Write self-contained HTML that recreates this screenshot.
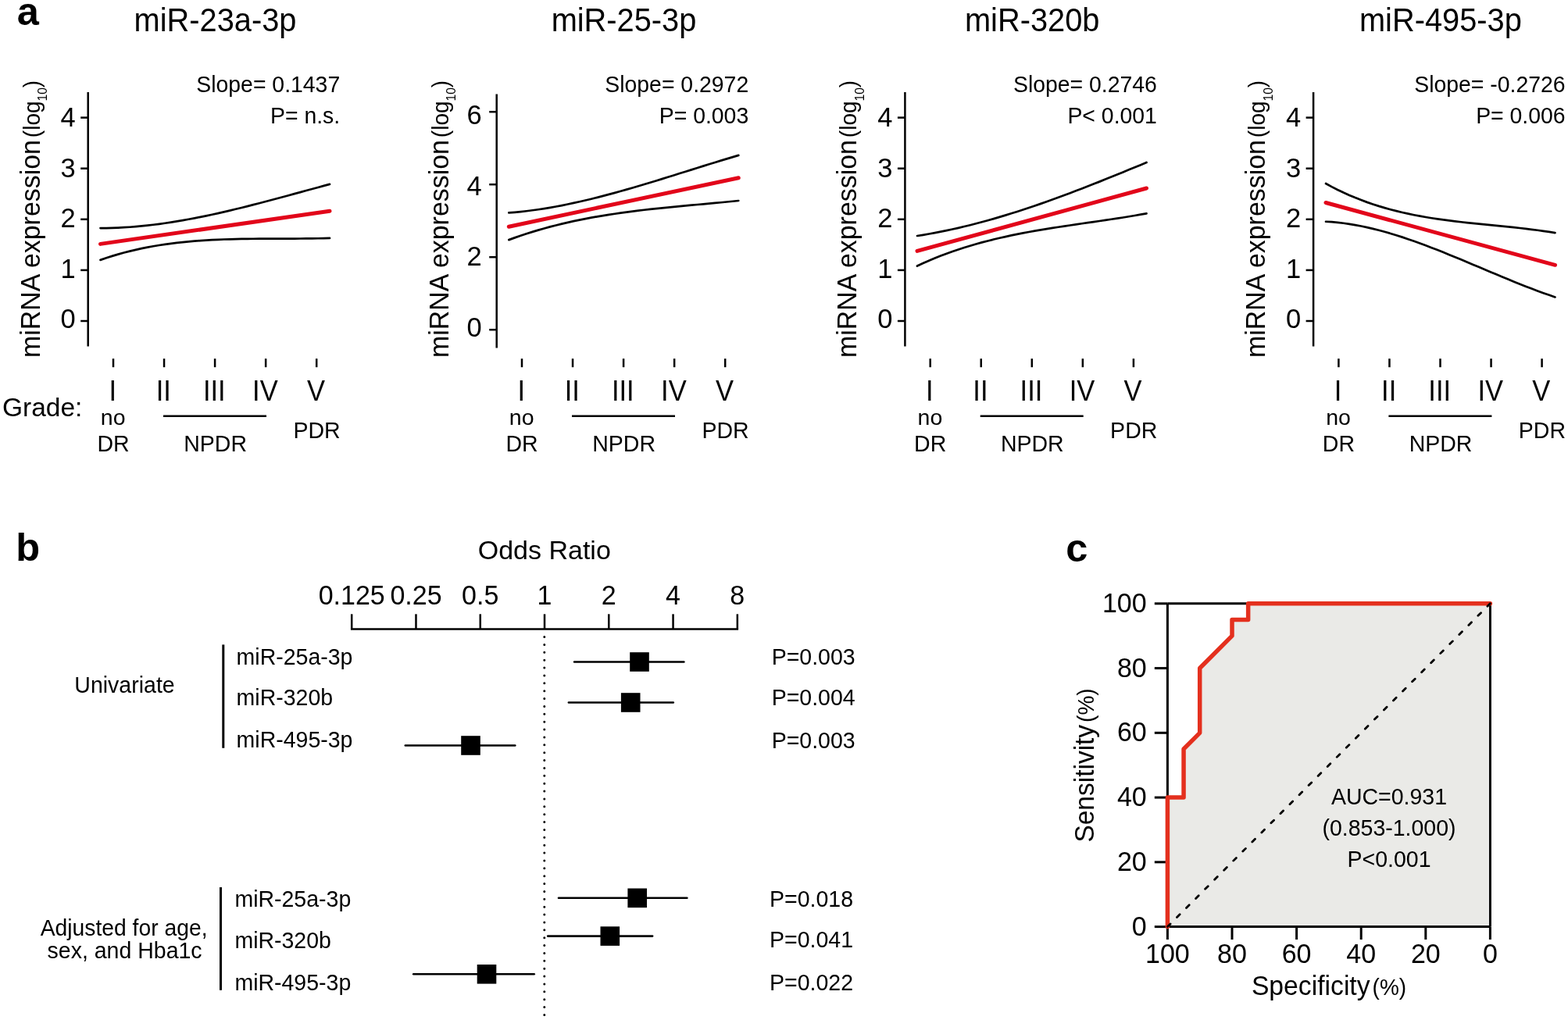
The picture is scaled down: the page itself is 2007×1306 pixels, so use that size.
<!DOCTYPE html>
<html><head><meta charset="utf-8"><title>Figure</title>
<style>html,body{margin:0;padding:0;background:#fff;overflow:hidden;}svg{display:block;}</style>
</head><body>
<svg width="2007" height="1306" viewBox="0 0 2007 1306" font-family="'Liberation Sans', Arial, Helvetica, sans-serif">
<rect x="0" y="0" width="2007" height="1306" fill="#fff"/>
<text transform="translate(21.8,31.7)" font-size="50.5" font-weight="bold">a</text>
<text transform="translate(20.3,718.2)" font-size="50.5" font-weight="bold">b</text>
<text transform="translate(1364.2,718.6)" font-size="50.5" font-weight="bold">c</text>
<text transform="translate(275.5,39.7) scale(1,1.05)" font-size="39.8" text-anchor="middle">miR-23a-3p</text>
<text transform="translate(435.2,118) scale(1,1.05)" font-size="28.4" text-anchor="end">Slope= 0.1437</text>
<text transform="translate(435.2,157.6) scale(1,1.05)" font-size="28.4" text-anchor="end">P= n.s.</text>
<line x1="112.7" y1="118" x2="112.7" y2="443.6" stroke="#000" stroke-width="2.5"/>
<line x1="103.2" y1="411" x2="112.7" y2="411" stroke="#000" stroke-width="2.5"/>
<text transform="translate(96.7,420)" font-size="34.5" text-anchor="end">0</text>
<line x1="103.2" y1="345.9" x2="112.7" y2="345.9" stroke="#000" stroke-width="2.5"/>
<text transform="translate(96.7,355.5)" font-size="34.5" text-anchor="end">1</text>
<line x1="103.2" y1="280.8" x2="112.7" y2="280.8" stroke="#000" stroke-width="2.5"/>
<text transform="translate(96.7,290.8)" font-size="34.5" text-anchor="end">2</text>
<line x1="103.2" y1="215.7" x2="112.7" y2="215.7" stroke="#000" stroke-width="2.5"/>
<text transform="translate(96.7,226.7)" font-size="34.5" text-anchor="end">3</text>
<line x1="103.2" y1="150.6" x2="112.7" y2="150.6" stroke="#000" stroke-width="2.5"/>
<text transform="translate(96.7,161.7)" font-size="34.5" text-anchor="end">4</text>
<text transform="translate(50.6,457.9) rotate(-90) scale(1,1.05)" font-size="33.9">miRNA expression<tspan font-size="28" dx="3">(log</tspan><tspan font-size="15.6" dy="9.3">10</tspan><tspan font-size="28" dy="-9.3">)</tspan></text>
<line x1="145" y1="459.2" x2="145" y2="470.2" stroke="#000" stroke-width="2.5"/>
<text transform="translate(144.2,512.6) scale(1,1.045)" font-size="34.5" text-anchor="middle">I</text>
<line x1="210.05" y1="459.2" x2="210.05" y2="470.2" stroke="#000" stroke-width="2.5"/>
<text transform="translate(209.25,512.6) scale(1,1.045)" font-size="34.5" text-anchor="middle">II</text>
<line x1="275.1" y1="459.2" x2="275.1" y2="470.2" stroke="#000" stroke-width="2.5"/>
<text transform="translate(274.3,512.6) scale(1,1.045)" font-size="34.5" text-anchor="middle">III</text>
<line x1="340.15" y1="459.2" x2="340.15" y2="470.2" stroke="#000" stroke-width="2.5"/>
<text transform="translate(339.35,512.6) scale(1,1.045)" font-size="34.5" text-anchor="middle">IV</text>
<line x1="405.2" y1="459.2" x2="405.2" y2="470.2" stroke="#000" stroke-width="2.5"/>
<text transform="translate(404.4,512.6) scale(1,1.045)" font-size="34.5" text-anchor="middle">V</text>
<text transform="translate(144.7,543.6)" font-size="28.5" text-anchor="middle">no</text>
<text transform="translate(145,577.6) scale(1,1.03)" font-size="28.5" text-anchor="middle">DR</text>
<line x1="209" y1="532.7" x2="341" y2="532.7" stroke="#000" stroke-width="2.5"/>
<text transform="translate(275.6,577.5) scale(1,1.03)" font-size="28.5" text-anchor="middle">NPDR</text>
<text transform="translate(405.5,561.2) scale(1,1.03)" font-size="28.5" text-anchor="middle">PDR</text>
<path d="M128.5,292.09 L136.03,292.04 L143.55,291.88 L151.08,291.6 L158.6,291.22 L166.13,290.73 L173.65,290.14 L181.18,289.45 L188.71,288.66 L196.23,287.78 L203.76,286.82 L211.28,285.77 L218.81,284.63 L226.33,283.42 L233.86,282.14 L241.38,280.78 L248.91,279.36 L256.44,277.87 L263.96,276.32 L271.49,274.72 L279.01,273.06 L286.54,271.35 L294.06,269.59 L301.59,267.79 L309.12,265.95 L316.64,264.07 L324.17,262.16 L331.69,260.22 L339.22,258.25 L346.74,256.27 L354.27,254.26 L361.79,252.23 L369.32,250.2 L376.85,248.15 L384.37,246.1 L391.9,244.04 L399.42,241.99 L406.95,239.94 L414.47,237.9 L422,235.88" fill="none" stroke="#000" stroke-width="2.7" stroke-linecap="round"/>
<path d="M128.5,332.88 L136.03,330.31 L143.55,327.9 L151.08,325.66 L158.6,323.57 L166.13,321.64 L173.65,319.85 L181.18,318.19 L188.71,316.68 L196.23,315.29 L203.76,314.02 L211.28,312.87 L218.81,311.83 L226.33,310.89 L233.86,310.06 L241.38,309.32 L248.91,308.66 L256.44,308.09 L263.96,307.6 L271.49,307.18 L279.01,306.82 L286.54,306.52 L294.06,306.28 L301.59,306.08 L309.12,305.93 L316.64,305.82 L324.17,305.74 L331.69,305.68 L339.22,305.64 L346.74,305.62 L354.27,305.6 L361.79,305.59 L369.32,305.58 L376.85,305.56 L384.37,305.52 L391.9,305.47 L399.42,305.38 L406.95,305.27 L414.47,305.12 L422,304.93" fill="none" stroke="#000" stroke-width="2.7" stroke-linecap="round"/>
<line x1="128.5" y1="312.4" x2="422" y2="270.2" stroke="#e2061a" stroke-width="5" stroke-linecap="round"/>
<text transform="translate(798.5,39.7) scale(1,1.05)" font-size="39.8" text-anchor="middle">miR-25-3p</text>
<text transform="translate(958.2,118) scale(1,1.05)" font-size="28.4" text-anchor="end">Slope= 0.2972</text>
<text transform="translate(958.2,157.6) scale(1,1.05)" font-size="28.4" text-anchor="end">P= 0.003</text>
<line x1="635.7" y1="120.6" x2="635.7" y2="445.4" stroke="#000" stroke-width="2.5"/>
<line x1="626.2" y1="422.2" x2="635.7" y2="422.2" stroke="#000" stroke-width="2.5"/>
<text transform="translate(616.7,431.2)" font-size="34.5" text-anchor="end">0</text>
<line x1="626.2" y1="329.2" x2="635.7" y2="329.2" stroke="#000" stroke-width="2.5"/>
<text transform="translate(616.7,340.1)" font-size="34.5" text-anchor="end">2</text>
<line x1="626.2" y1="236.2" x2="635.7" y2="236.2" stroke="#000" stroke-width="2.5"/>
<text transform="translate(616.7,250.1)" font-size="34.5" text-anchor="end">4</text>
<line x1="626.2" y1="143.2" x2="635.7" y2="143.2" stroke="#000" stroke-width="2.5"/>
<text transform="translate(616.7,158.7)" font-size="34.5" text-anchor="end">6</text>
<text transform="translate(573.6,457.9) rotate(-90) scale(1,1.05)" font-size="33.9">miRNA expression<tspan font-size="28" dx="3">(log</tspan><tspan font-size="15.6" dy="9.3">10</tspan><tspan font-size="28" dy="-9.3">)</tspan></text>
<line x1="668" y1="459.2" x2="668" y2="470.2" stroke="#000" stroke-width="2.5"/>
<text transform="translate(667.2,512.6) scale(1,1.045)" font-size="34.5" text-anchor="middle">I</text>
<line x1="733.05" y1="459.2" x2="733.05" y2="470.2" stroke="#000" stroke-width="2.5"/>
<text transform="translate(732.25,512.6) scale(1,1.045)" font-size="34.5" text-anchor="middle">II</text>
<line x1="798.1" y1="459.2" x2="798.1" y2="470.2" stroke="#000" stroke-width="2.5"/>
<text transform="translate(797.3,512.6) scale(1,1.045)" font-size="34.5" text-anchor="middle">III</text>
<line x1="863.15" y1="459.2" x2="863.15" y2="470.2" stroke="#000" stroke-width="2.5"/>
<text transform="translate(862.35,512.6) scale(1,1.045)" font-size="34.5" text-anchor="middle">IV</text>
<line x1="928.2" y1="459.2" x2="928.2" y2="470.2" stroke="#000" stroke-width="2.5"/>
<text transform="translate(927.4,512.6) scale(1,1.045)" font-size="34.5" text-anchor="middle">V</text>
<text transform="translate(667.7,543.6)" font-size="28.5" text-anchor="middle">no</text>
<text transform="translate(668,577.6) scale(1,1.03)" font-size="28.5" text-anchor="middle">DR</text>
<line x1="732" y1="532.7" x2="864" y2="532.7" stroke="#000" stroke-width="2.5"/>
<text transform="translate(798.6,577.5) scale(1,1.03)" font-size="28.5" text-anchor="middle">NPDR</text>
<text transform="translate(928.5,561.2) scale(1,1.03)" font-size="28.5" text-anchor="middle">PDR</text>
<path d="M651.3,272.41 L658.84,271.8 L666.38,271.06 L673.92,270.22 L681.45,269.27 L688.99,268.22 L696.53,267.07 L704.07,265.82 L711.61,264.48 L719.15,263.05 L726.68,261.53 L734.22,259.94 L741.76,258.27 L749.3,256.53 L756.84,254.72 L764.38,252.85 L771.92,250.91 L779.45,248.92 L786.99,246.88 L794.53,244.79 L802.07,242.65 L809.61,240.48 L817.15,238.27 L824.68,236.02 L832.22,233.75 L839.76,231.45 L847.3,229.13 L854.84,226.79 L862.38,224.44 L869.92,222.08 L877.45,219.72 L884.99,217.35 L892.53,214.99 L900.07,212.63 L907.61,210.29 L915.15,207.96 L922.68,205.64 L930.22,203.35 L937.76,201.09 L945.3,198.86" fill="none" stroke="#000" stroke-width="2.7" stroke-linecap="round"/>
<path d="M651.3,307.11 L658.84,304.37 L666.38,301.75 L673.92,299.26 L681.45,296.88 L688.99,294.62 L696.53,292.46 L704.07,290.41 L711.61,288.47 L719.15,286.62 L726.68,284.86 L734.22,283.19 L741.76,281.62 L749.3,280.12 L756.84,278.7 L764.38,277.35 L771.92,276.08 L779.45,274.87 L786.99,273.72 L794.53,272.63 L802.07,271.6 L809.61,270.61 L817.15,269.67 L824.68,268.78 L832.22,267.92 L839.76,267.1 L847.3,266.31 L854.84,265.54 L862.38,264.8 L869.92,264.08 L877.45,263.37 L884.99,262.68 L892.53,261.99 L900.07,261.3 L907.61,260.61 L915.15,259.92 L922.68,259.22 L930.22,258.5 L937.76,257.77 L945.3,257.02" fill="none" stroke="#000" stroke-width="2.7" stroke-linecap="round"/>
<line x1="651.3" y1="290.2" x2="945.3" y2="227.7" stroke="#e2061a" stroke-width="5" stroke-linecap="round"/>
<text transform="translate(1321.2,39.7) scale(1,1.05)" font-size="39.8" text-anchor="middle">miR-320b</text>
<text transform="translate(1480.9,118) scale(1,1.05)" font-size="28.4" text-anchor="end">Slope= 0.2746</text>
<text transform="translate(1480.9,157.6) scale(1,1.05)" font-size="28.4" text-anchor="end">P&lt; 0.001</text>
<line x1="1158.4" y1="118" x2="1158.4" y2="443.6" stroke="#000" stroke-width="2.5"/>
<line x1="1148.9" y1="411" x2="1158.4" y2="411" stroke="#000" stroke-width="2.5"/>
<text transform="translate(1142.4,420)" font-size="34.5" text-anchor="end">0</text>
<line x1="1148.9" y1="345.9" x2="1158.4" y2="345.9" stroke="#000" stroke-width="2.5"/>
<text transform="translate(1142.4,355.5)" font-size="34.5" text-anchor="end">1</text>
<line x1="1148.9" y1="280.8" x2="1158.4" y2="280.8" stroke="#000" stroke-width="2.5"/>
<text transform="translate(1142.4,290.8)" font-size="34.5" text-anchor="end">2</text>
<line x1="1148.9" y1="215.7" x2="1158.4" y2="215.7" stroke="#000" stroke-width="2.5"/>
<text transform="translate(1142.4,226.7)" font-size="34.5" text-anchor="end">3</text>
<line x1="1148.9" y1="150.6" x2="1158.4" y2="150.6" stroke="#000" stroke-width="2.5"/>
<text transform="translate(1142.4,161.7)" font-size="34.5" text-anchor="end">4</text>
<text transform="translate(1096.3,457.9) rotate(-90) scale(1,1.05)" font-size="33.9">miRNA expression<tspan font-size="28" dx="3">(log</tspan><tspan font-size="15.6" dy="9.3">10</tspan><tspan font-size="28" dy="-9.3">)</tspan></text>
<line x1="1190.7" y1="459.2" x2="1190.7" y2="470.2" stroke="#000" stroke-width="2.5"/>
<text transform="translate(1189.9,512.6) scale(1,1.045)" font-size="34.5" text-anchor="middle">I</text>
<line x1="1255.75" y1="459.2" x2="1255.75" y2="470.2" stroke="#000" stroke-width="2.5"/>
<text transform="translate(1254.95,512.6) scale(1,1.045)" font-size="34.5" text-anchor="middle">II</text>
<line x1="1320.8" y1="459.2" x2="1320.8" y2="470.2" stroke="#000" stroke-width="2.5"/>
<text transform="translate(1320,512.6) scale(1,1.045)" font-size="34.5" text-anchor="middle">III</text>
<line x1="1385.85" y1="459.2" x2="1385.85" y2="470.2" stroke="#000" stroke-width="2.5"/>
<text transform="translate(1385.05,512.6) scale(1,1.045)" font-size="34.5" text-anchor="middle">IV</text>
<line x1="1450.9" y1="459.2" x2="1450.9" y2="470.2" stroke="#000" stroke-width="2.5"/>
<text transform="translate(1450.1,512.6) scale(1,1.045)" font-size="34.5" text-anchor="middle">V</text>
<text transform="translate(1190.4,543.6)" font-size="28.5" text-anchor="middle">no</text>
<text transform="translate(1190.7,577.6) scale(1,1.03)" font-size="28.5" text-anchor="middle">DR</text>
<line x1="1254.7" y1="532.7" x2="1386.7" y2="532.7" stroke="#000" stroke-width="2.5"/>
<text transform="translate(1321.3,577.5) scale(1,1.03)" font-size="28.5" text-anchor="middle">NPDR</text>
<text transform="translate(1451.2,561.2) scale(1,1.03)" font-size="28.5" text-anchor="middle">PDR</text>
<path d="M1174,301.99 L1181.53,300.8 L1189.05,299.52 L1196.58,298.15 L1204.1,296.69 L1211.63,295.15 L1219.15,293.53 L1226.68,291.83 L1234.21,290.05 L1241.73,288.2 L1249.26,286.27 L1256.78,284.28 L1264.31,282.21 L1271.83,280.08 L1279.36,277.88 L1286.88,275.62 L1294.41,273.3 L1301.94,270.92 L1309.46,268.48 L1316.99,265.99 L1324.51,263.45 L1332.04,260.85 L1339.56,258.21 L1347.09,255.53 L1354.62,252.8 L1362.14,250.02 L1369.67,247.21 L1377.19,244.36 L1384.72,241.48 L1392.24,238.56 L1399.77,235.61 L1407.29,232.63 L1414.82,229.62 L1422.35,226.59 L1429.87,223.54 L1437.4,220.46 L1444.92,217.37 L1452.45,214.26 L1459.97,211.13 L1467.5,208" fill="none" stroke="#000" stroke-width="2.7" stroke-linecap="round"/>
<path d="M1174,340.56 L1181.53,337.08 L1189.05,333.77 L1196.58,330.62 L1204.1,327.62 L1211.63,324.77 L1219.15,322.06 L1226.68,319.48 L1234.21,317.04 L1241.73,314.72 L1249.26,312.51 L1256.78,310.42 L1264.31,308.44 L1271.83,306.55 L1279.36,304.76 L1286.88,303.06 L1294.41,301.44 L1301.94,299.89 L1309.46,298.42 L1316.99,297.01 L1324.51,295.66 L1332.04,294.37 L1339.56,293.12 L1347.09,291.91 L1354.62,290.73 L1362.14,289.59 L1369.67,288.47 L1377.19,287.37 L1384.72,286.27 L1392.24,285.19 L1399.77,284.1 L1407.29,283.01 L1414.82,281.91 L1422.35,280.78 L1429.87,279.64 L1437.4,278.46 L1444.92,277.25 L1452.45,276 L1459.97,274.7 L1467.5,273.34" fill="none" stroke="#000" stroke-width="2.7" stroke-linecap="round"/>
<line x1="1174" y1="321.4" x2="1467.5" y2="241" stroke="#e2061a" stroke-width="5" stroke-linecap="round"/>
<text transform="translate(1843.9,39.7) scale(1,1.05)" font-size="39.8" text-anchor="middle">miR-495-3p</text>
<text transform="translate(2003.6,118) scale(1,1.05)" font-size="28.4" text-anchor="end">Slope= -0.2726</text>
<text transform="translate(2003.6,157.6) scale(1,1.05)" font-size="28.4" text-anchor="end">P= 0.006</text>
<line x1="1681.1" y1="118" x2="1681.1" y2="443.6" stroke="#000" stroke-width="2.5"/>
<line x1="1671.6" y1="411" x2="1681.1" y2="411" stroke="#000" stroke-width="2.5"/>
<text transform="translate(1665.1,420)" font-size="34.5" text-anchor="end">0</text>
<line x1="1671.6" y1="345.9" x2="1681.1" y2="345.9" stroke="#000" stroke-width="2.5"/>
<text transform="translate(1665.1,355.5)" font-size="34.5" text-anchor="end">1</text>
<line x1="1671.6" y1="280.8" x2="1681.1" y2="280.8" stroke="#000" stroke-width="2.5"/>
<text transform="translate(1665.1,290.8)" font-size="34.5" text-anchor="end">2</text>
<line x1="1671.6" y1="215.7" x2="1681.1" y2="215.7" stroke="#000" stroke-width="2.5"/>
<text transform="translate(1665.1,226.7)" font-size="34.5" text-anchor="end">3</text>
<line x1="1671.6" y1="150.6" x2="1681.1" y2="150.6" stroke="#000" stroke-width="2.5"/>
<text transform="translate(1665.1,161.7)" font-size="34.5" text-anchor="end">4</text>
<text transform="translate(1619,457.9) rotate(-90) scale(1,1.05)" font-size="33.9">miRNA expression<tspan font-size="28" dx="3">(log</tspan><tspan font-size="15.6" dy="9.3">10</tspan><tspan font-size="28" dy="-9.3">)</tspan></text>
<line x1="1713.4" y1="459.2" x2="1713.4" y2="470.2" stroke="#000" stroke-width="2.5"/>
<text transform="translate(1712.6,512.6) scale(1,1.045)" font-size="34.5" text-anchor="middle">I</text>
<line x1="1778.45" y1="459.2" x2="1778.45" y2="470.2" stroke="#000" stroke-width="2.5"/>
<text transform="translate(1777.65,512.6) scale(1,1.045)" font-size="34.5" text-anchor="middle">II</text>
<line x1="1843.5" y1="459.2" x2="1843.5" y2="470.2" stroke="#000" stroke-width="2.5"/>
<text transform="translate(1842.7,512.6) scale(1,1.045)" font-size="34.5" text-anchor="middle">III</text>
<line x1="1908.55" y1="459.2" x2="1908.55" y2="470.2" stroke="#000" stroke-width="2.5"/>
<text transform="translate(1907.75,512.6) scale(1,1.045)" font-size="34.5" text-anchor="middle">IV</text>
<line x1="1973.6" y1="459.2" x2="1973.6" y2="470.2" stroke="#000" stroke-width="2.5"/>
<text transform="translate(1972.8,512.6) scale(1,1.045)" font-size="34.5" text-anchor="middle">V</text>
<text transform="translate(1713.1,543.6)" font-size="28.5" text-anchor="middle">no</text>
<text transform="translate(1713.4,577.6) scale(1,1.03)" font-size="28.5" text-anchor="middle">DR</text>
<line x1="1777.4" y1="532.7" x2="1909.4" y2="532.7" stroke="#000" stroke-width="2.5"/>
<text transform="translate(1844,577.5) scale(1,1.03)" font-size="28.5" text-anchor="middle">NPDR</text>
<text transform="translate(1973.9,561.2) scale(1,1.03)" font-size="28.5" text-anchor="middle">PDR</text>
<path d="M1697,235.02 L1704.53,239.09 L1712.05,242.93 L1719.58,246.53 L1727.1,249.92 L1734.63,253.1 L1742.15,256.07 L1749.68,258.86 L1757.21,261.45 L1764.73,263.88 L1772.26,266.13 L1779.78,268.23 L1787.31,270.18 L1794.83,271.99 L1802.36,273.67 L1809.88,275.22 L1817.41,276.66 L1824.94,277.99 L1832.46,279.23 L1839.99,280.37 L1847.51,281.44 L1855.04,282.44 L1862.56,283.37 L1870.09,284.25 L1877.62,285.09 L1885.14,285.89 L1892.67,286.66 L1900.19,287.41 L1907.72,288.15 L1915.24,288.89 L1922.77,289.64 L1930.29,290.41 L1937.82,291.19 L1945.35,292.02 L1952.87,292.88 L1960.4,293.79 L1967.92,294.77 L1975.45,295.81 L1982.97,296.93 L1990.5,298.13" fill="none" stroke="#000" stroke-width="2.7" stroke-linecap="round"/>
<path d="M1697,283.74 L1704.53,284.22 L1712.05,284.9 L1719.58,285.78 L1727.1,286.85 L1734.63,288.11 L1742.15,289.53 L1749.68,291.12 L1757.21,292.87 L1764.73,294.76 L1772.26,296.8 L1779.78,298.96 L1787.31,301.25 L1794.83,303.66 L1802.36,306.18 L1809.88,308.79 L1817.41,311.5 L1824.94,314.29 L1832.46,317.16 L1839.99,320.09 L1847.51,323.08 L1855.04,326.13 L1862.56,329.21 L1870.09,332.33 L1877.62,335.48 L1885.14,338.65 L1892.67,341.83 L1900.19,345.01 L1907.72,348.18 L1915.24,351.34 L1922.77,354.48 L1930.29,357.59 L1937.82,360.66 L1945.35,363.69 L1952.87,366.66 L1960.4,369.56 L1967.92,372.4 L1975.45,375.16 L1982.97,377.83 L1990.5,380.41" fill="none" stroke="#000" stroke-width="2.7" stroke-linecap="round"/>
<line x1="1697" y1="259.5" x2="1990.5" y2="339.3" stroke="#e2061a" stroke-width="5" stroke-linecap="round"/>
<text transform="translate(3,532.5)" font-size="33.5">Grade:</text>
<text transform="translate(696.8,715.5)" font-size="34" text-anchor="middle">Odds Ratio</text>
<line x1="448.95" y1="805.5" x2="945.07" y2="805.5" stroke="#000" stroke-width="2.6"/>
<line x1="450.2" y1="786.3" x2="450.2" y2="805.5" stroke="#000" stroke-width="2.5"/>
<text transform="translate(450.2,773.5) scale(1,1.05)" font-size="34" text-anchor="middle">0.125</text>
<line x1="532.47" y1="786.3" x2="532.47" y2="805.5" stroke="#000" stroke-width="2.5"/>
<text transform="translate(532.47,773.5) scale(1,1.05)" font-size="34" text-anchor="middle">0.25</text>
<line x1="614.74" y1="786.3" x2="614.74" y2="805.5" stroke="#000" stroke-width="2.5"/>
<text transform="translate(614.74,773.5) scale(1,1.05)" font-size="34" text-anchor="middle">0.5</text>
<line x1="697.01" y1="786.3" x2="697.01" y2="805.5" stroke="#000" stroke-width="2.5"/>
<text transform="translate(697.01,773.5) scale(1,1.05)" font-size="34" text-anchor="middle">1</text>
<line x1="779.28" y1="786.3" x2="779.28" y2="805.5" stroke="#000" stroke-width="2.5"/>
<text transform="translate(779.28,773.5) scale(1,1.05)" font-size="34" text-anchor="middle">2</text>
<line x1="861.55" y1="786.3" x2="861.55" y2="805.5" stroke="#000" stroke-width="2.5"/>
<text transform="translate(861.55,773.5) scale(1,1.05)" font-size="34" text-anchor="middle">4</text>
<line x1="943.82" y1="786.3" x2="943.82" y2="805.5" stroke="#000" stroke-width="2.5"/>
<text transform="translate(943.82,773.5) scale(1,1.05)" font-size="34" text-anchor="middle">8</text>
<line x1="696.8" y1="815.6" x2="696.8" y2="1300" stroke="#000" stroke-width="3" stroke-linecap="round" stroke-dasharray="0 9.873"/>
<line x1="735.1" y1="847.5" x2="875.4" y2="847.5" stroke="#000" stroke-width="2.6" stroke-linecap="round"/>
<rect x="806.2" y="835.2" width="24.6" height="24.6" fill="#000"/>
<line x1="727.9" y1="899.5" x2="861.8" y2="899.5" stroke="#000" stroke-width="2.6" stroke-linecap="round"/>
<rect x="794.9" y="887.2" width="24.6" height="24.6" fill="#000"/>
<line x1="518.8" y1="954.5" x2="659.3" y2="954.5" stroke="#000" stroke-width="2.6" stroke-linecap="round"/>
<rect x="590.2" y="942.2" width="24.6" height="24.6" fill="#000"/>
<line x1="715" y1="1149.8" x2="879.4" y2="1149.8" stroke="#000" stroke-width="2.6" stroke-linecap="round"/>
<rect x="803.4" y="1137.5" width="24.6" height="24.6" fill="#000"/>
<line x1="701.2" y1="1198.6" x2="835.1" y2="1198.6" stroke="#000" stroke-width="2.6" stroke-linecap="round"/>
<rect x="768.5" y="1186.3" width="24.6" height="24.6" fill="#000"/>
<line x1="529.2" y1="1247.3" x2="683.7" y2="1247.3" stroke="#000" stroke-width="2.6" stroke-linecap="round"/>
<rect x="610.7" y="1235" width="24.6" height="24.6" fill="#000"/>
<text transform="translate(302.6,850.9) scale(1,1.03)" font-size="28.5">miR-25a-3p</text>
<text transform="translate(302.6,902.6) scale(1,1.03)" font-size="28.5">miR-320b</text>
<text transform="translate(302.6,957.3) scale(1,1.03)" font-size="28.5">miR-495-3p</text>
<text transform="translate(300.4,1161.2) scale(1,1.03)" font-size="28.5">miR-25a-3p</text>
<text transform="translate(300.4,1213.5) scale(1,1.03)" font-size="28.5">miR-320b</text>
<text transform="translate(300.4,1268.2) scale(1,1.03)" font-size="28.5">miR-495-3p</text>
<text transform="translate(987.7,851) scale(1,1.05)" font-size="28.5">P=0.003</text>
<text transform="translate(987.7,902.7) scale(1,1.05)" font-size="28.5">P=0.004</text>
<text transform="translate(987.7,957.8) scale(1,1.05)" font-size="28.5">P=0.003</text>
<text transform="translate(985.1,1161.4) scale(1,1.05)" font-size="28.5">P=0.018</text>
<text transform="translate(985.1,1212.8) scale(1,1.05)" font-size="28.5">P=0.041</text>
<text transform="translate(985.1,1268) scale(1,1.05)" font-size="28.5">P=0.022</text>
<line x1="285.8" y1="825.4" x2="285.8" y2="957.8" stroke="#000" stroke-width="3"/>
<line x1="282.5" y1="1136" x2="282.5" y2="1267.8" stroke="#000" stroke-width="3"/>
<text transform="translate(159.5,887.2) scale(1,1.05)" font-size="28.5" text-anchor="middle">Univariate</text>
<text transform="translate(158.6,1197.9) scale(1,1.05)" font-size="28.3" text-anchor="middle">Adjusted for age,</text>
<text transform="translate(159.6,1226.6) scale(1,1.05)" font-size="28.5" text-anchor="middle">sex, and Hba1c</text>
<polygon points="1494.4,1186.6 1494.4,1021.08 1515.05,1021.08 1515.05,959.01 1535.7,938.32 1535.7,855.56 1577,814.18 1577,793.49 1597.65,793.49 1597.65,772.8 1904.8,772.8 1904.8,1185.1 1494.4,1185.1" fill="#eaeae7"/>
<path d="M1494.4,772.8 L1907.4,772.8 L1907.4,1186.6 M1494.4,772.8 L1494.4,1186.6 L1907.4,1186.6" fill="none" stroke="#000" stroke-width="3"/>
<line x1="1477.8" y1="1186.6" x2="1494.4" y2="1186.6" stroke="#000" stroke-width="3"/>
<text transform="translate(1467.7,1197.6) scale(1,1.05)" font-size="34" text-anchor="end">0</text>
<line x1="1907.4" y1="1186.6" x2="1907.4" y2="1203" stroke="#000" stroke-width="3"/>
<text transform="translate(1907.4,1233) scale(1,1.05)" font-size="34" text-anchor="middle">0</text>
<line x1="1477.8" y1="1103.84" x2="1494.4" y2="1103.84" stroke="#000" stroke-width="3"/>
<text transform="translate(1467.7,1114.84) scale(1,1.05)" font-size="34" text-anchor="end">20</text>
<line x1="1824.8" y1="1186.6" x2="1824.8" y2="1203" stroke="#000" stroke-width="3"/>
<text transform="translate(1824.8,1233) scale(1,1.05)" font-size="34" text-anchor="middle">20</text>
<line x1="1477.8" y1="1021.08" x2="1494.4" y2="1021.08" stroke="#000" stroke-width="3"/>
<text transform="translate(1467.7,1032.08) scale(1,1.05)" font-size="34" text-anchor="end">40</text>
<line x1="1742.2" y1="1186.6" x2="1742.2" y2="1203" stroke="#000" stroke-width="3"/>
<text transform="translate(1742.2,1233) scale(1,1.05)" font-size="34" text-anchor="middle">40</text>
<line x1="1477.8" y1="938.32" x2="1494.4" y2="938.32" stroke="#000" stroke-width="3"/>
<text transform="translate(1467.7,949.32) scale(1,1.05)" font-size="34" text-anchor="end">60</text>
<line x1="1659.6" y1="1186.6" x2="1659.6" y2="1203" stroke="#000" stroke-width="3"/>
<text transform="translate(1659.6,1233) scale(1,1.05)" font-size="34" text-anchor="middle">60</text>
<line x1="1477.8" y1="855.56" x2="1494.4" y2="855.56" stroke="#000" stroke-width="3"/>
<text transform="translate(1467.7,866.56) scale(1,1.05)" font-size="34" text-anchor="end">80</text>
<line x1="1577" y1="1186.6" x2="1577" y2="1203" stroke="#000" stroke-width="3"/>
<text transform="translate(1577,1233) scale(1,1.05)" font-size="34" text-anchor="middle">80</text>
<line x1="1477.8" y1="772.8" x2="1494.4" y2="772.8" stroke="#000" stroke-width="3"/>
<text transform="translate(1467.7,783.8) scale(1,1.05)" font-size="34" text-anchor="end">100</text>
<line x1="1494.4" y1="1186.6" x2="1494.4" y2="1203" stroke="#000" stroke-width="3"/>
<text transform="translate(1494.4,1233) scale(1,1.05)" font-size="34" text-anchor="middle">100</text>
<path d="M1494.4,1186.6 L1494.4,1021.08 L1515.05,1021.08 L1515.05,959.01 L1535.7,938.32 L1535.7,855.56 L1577,814.18 L1577,793.49 L1597.65,793.49 L1597.65,772.8 L1907.4,772.8" fill="none" stroke="#e4301e" stroke-width="5.5" stroke-linejoin="round" stroke-linecap="round"/>
<line x1="1494.4" y1="1186.6" x2="1907.4" y2="772.8" stroke="#000" stroke-width="2.8" stroke-linecap="round" stroke-dasharray="5.2 11.85"/>
<text transform="translate(1399.8,1078.6) rotate(-90) scale(1,1.05)" font-size="33.5">Sensitivity<tspan font-size="28" dx="3">(%)</tspan></text>
<text transform="translate(1601.9,1273.7) scale(1,1.05)" font-size="33.7">Specificity<tspan font-size="28" dx="3">(%)</tspan></text>
<text transform="translate(1778,1030.4) scale(1,1.05)" font-size="28.5" text-anchor="middle">AUC=0.931</text>
<text transform="translate(1778,1069.8) scale(1,1.05)" font-size="28.5" text-anchor="middle">(0.853-1.000)</text>
<text transform="translate(1778,1109.6) scale(1,1.05)" font-size="28.5" text-anchor="middle">P&lt;0.001</text>
</svg>
</body></html>
